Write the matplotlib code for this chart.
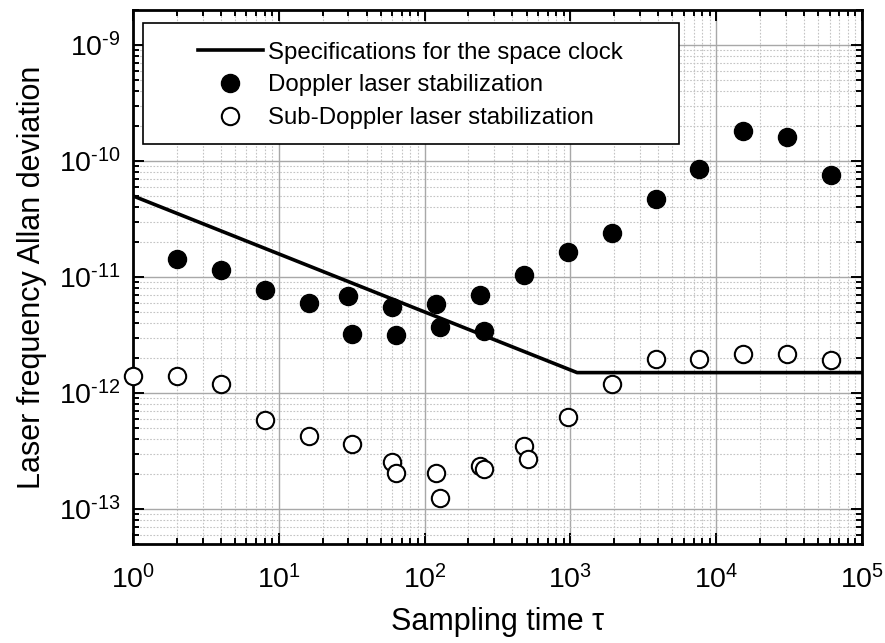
import matplotlib
matplotlib.use('Agg')
from matplotlib import pyplot as plt
from matplotlib.patches import Rectangle
from matplotlib.ticker import LogLocator, NullFormatter, FuncFormatter
import numpy as np

plt.rcParams['font.family'] = ['Liberation Sans', 'DejaVu Sans']
plt.rcParams['mathtext.fontset'] = 'custom'
plt.rcParams['mathtext.rm'] = 'Liberation Sans'
plt.rcParams['mathtext.it'] = 'Liberation Sans:italic'
plt.rcParams['axes.unicode_minus'] = False

# specification for the space clock (breakpoints)
spec_tau = [1, 1111, 1e5]
spec_adev = [5e-11, 1.5e-12, 1.5e-12]

# Doppler laser stabilization
dop_tau = [2, 4, 8, 16, 30, 32, 60, 64, 120, 128, 240, 256, 480, 960,
           1920, 3840, 7680, 15360, 30720, 61440]
dop_adev = [1.42e-11, 1.14e-11, 7.7e-12, 6.0e-12, 6.8e-12, 3.2e-12, 5.5e-12,
            3.15e-12, 5.8e-12, 3.7e-12, 7.0e-12, 3.4e-12, 1.05e-11, 1.63e-11,
            2.41e-11, 4.7e-11, 8.6e-11, 1.82e-10, 1.61e-10, 7.6e-11]

# Sub-Doppler laser stabilization
sub_tau = [1, 2, 4, 8, 16, 32, 60, 64, 120, 128, 240, 256, 480, 512, 960,
           1920, 3840, 7680, 15360, 30720, 61440]
sub_adev = [1.40e-12, 1.40e-12, 1.20e-12, 5.85e-13, 4.24e-13, 3.63e-13,
            2.56e-13, 2.03e-13, 2.03e-13, 1.24e-13, 2.33e-13, 2.21e-13,
            3.47e-13, 2.72e-13, 6.2e-13, 1.19e-12, 1.98e-12, 1.98e-12,
            2.18e-12, 2.18e-12, 1.94e-12]

x_ticks = [1, 10, 100, 1e3, 1e4, 1e5]
y_ticks = [1e-13, 1e-12, 1e-11, 1e-10, 1e-9]


def pow10(v, pos):
    e = int(round(np.log10(v)))
    if e < 0:
        return r'$\mathregular{10^{\text{-}%d}}$' % (-e)
    return r'$\mathregular{10^{%d}}$' % e


fig = plt.figure(figsize=(8.85, 6.43), dpi=100)
ax = fig.add_axes([0.1503, 0.154, 0.8237, 0.8304])

ax.set_xscale('log')
ax.set_yscale('log')

ax.plot(spec_tau, spec_adev, color='black', lw=2.6, solid_joinstyle='round',
        zorder=3, label='Specifications for the space clock')
ax.plot(dop_tau, dop_adev, 'o', ms=13, color='black', ls='none',
        zorder=4, clip_on=False, label='Doppler laser stabilization')
ax.plot(sub_tau, sub_adev, 'o', ms=12.5, mfc='white', mec='black', mew=1.5,
        ls='none', zorder=4, clip_on=False, label='Sub-Doppler laser stabilization')

ax.set_xticks(x_ticks)
ax.set_yticks(y_ticks)
ax.xaxis.set_minor_locator(LogLocator(base=10, subs=range(2, 10), numticks=20))
ax.yaxis.set_minor_locator(LogLocator(base=10, subs=range(2, 10), numticks=20))
ax.xaxis.set_major_formatter(FuncFormatter(pow10))
ax.yaxis.set_major_formatter(FuncFormatter(pow10))
ax.xaxis.set_minor_formatter(NullFormatter())
ax.yaxis.set_minor_formatter(NullFormatter())
ax.set_xlim(1, 1e5)
ax.set_ylim(5e-14, 2e-9)

ax.grid(which='major', color='#a8a8a8', lw=1.0, ls='-')
ax.grid(which='minor', color='#c4c4c4', lw=0.8, ls=(0, (1.5, 1.5)))
ax.set_axisbelow(True)

ax.tick_params(which='both', direction='in', top=True, right=True, width=1.4)
ax.tick_params(which='major', length=8)
ax.tick_params(which='minor', length=4.5)
ax.tick_params(axis='x', which='major', labelsize=20.5, pad=15)
ax.tick_params(axis='y', which='major', labelsize=20.5, pad=9)
for s in ax.spines.values():
    s.set_linewidth(2.0)

ax.set_xlabel('Sampling time τ', fontsize=22, labelpad=9)
ax.set_ylabel('Laser frequency Allan deviation', fontsize=22, labelpad=8)

# legend box (content centred in a wider frame)
ax.add_patch(Rectangle((0.0137, 0.749), 0.735, 0.227, transform=ax.transAxes,
                       facecolor='white', edgecolor='black', lw=1.2, zorder=5))
leg = ax.legend(loc='upper left', bbox_to_anchor=(0.089, 0.941), frameon=False,
                fontsize=17.3, handlelength=2.7, handletextpad=0.2,
                labelspacing=0.45, borderpad=0, borderaxespad=0)
leg.set_zorder(6)

fig.savefig('out.png', dpi=100)
